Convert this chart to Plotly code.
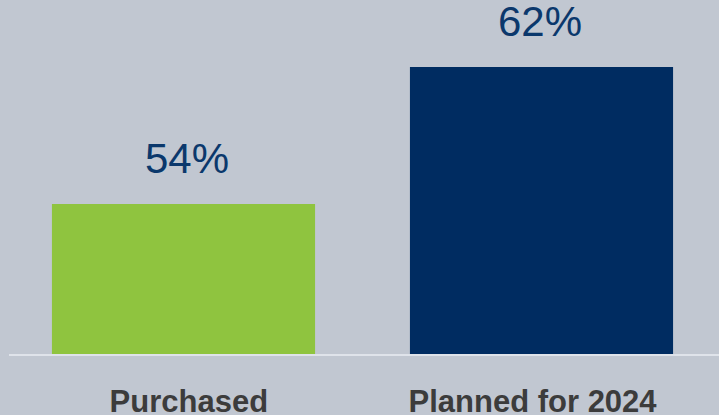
import plotly.graph_objects as go

categories = ["Purchased", "Planned for 2024"]
values = [54, 62]
labels = ["54%", "62%"]
colors = ["#8fc43f", "#002c61"]

BG = "#c1c7d1"

fig = go.Figure()
fig.add_trace(go.Bar(
    x=list(range(len(categories))), y=values,
    marker=dict(color=colors, line=dict(width=0)),
    hoverinfo="skip",
))

label_xshift = [4, -2]
for i, (v, t) in enumerate(zip(values, labels)):
    fig.add_annotation(
        x=i, y=v, text=t, showarrow=False,
        yanchor="bottom", yshift=20, xshift=label_xshift[i],
        font=dict(family="Liberation Sans, Arial, sans-serif", size=42, color="#0b386c"),
    )

fig.update_layout(
    width=719, height=415,
    margin=dict(l=9, r=0, t=0, b=61),
    paper_bgcolor=BG, plot_bgcolor=BG,
    bargap=0.265,
    showlegend=False,
)
fig.update_xaxes(
    range=[-0.4874, 1.4958],
    automargin=False,
    tickmode="array",
    tickvals=[0.015, 0.975],
    ticktext=categories,
    showline=True, linecolor="#dfe3ea", linewidth=2,
    showgrid=False, zeroline=False,
    ticks="outside", ticklen=19, tickcolor="rgba(0,0,0,0)",
    tickfont=dict(family="Liberation Sans, Arial, sans-serif", size=31, color="#3c3c3c", weight="bold"),
)
fig.update_yaxes(
    range=[45.24, 65.92],
    visible=False, showgrid=False, zeroline=False,
)

fig.write_html("out.html")
